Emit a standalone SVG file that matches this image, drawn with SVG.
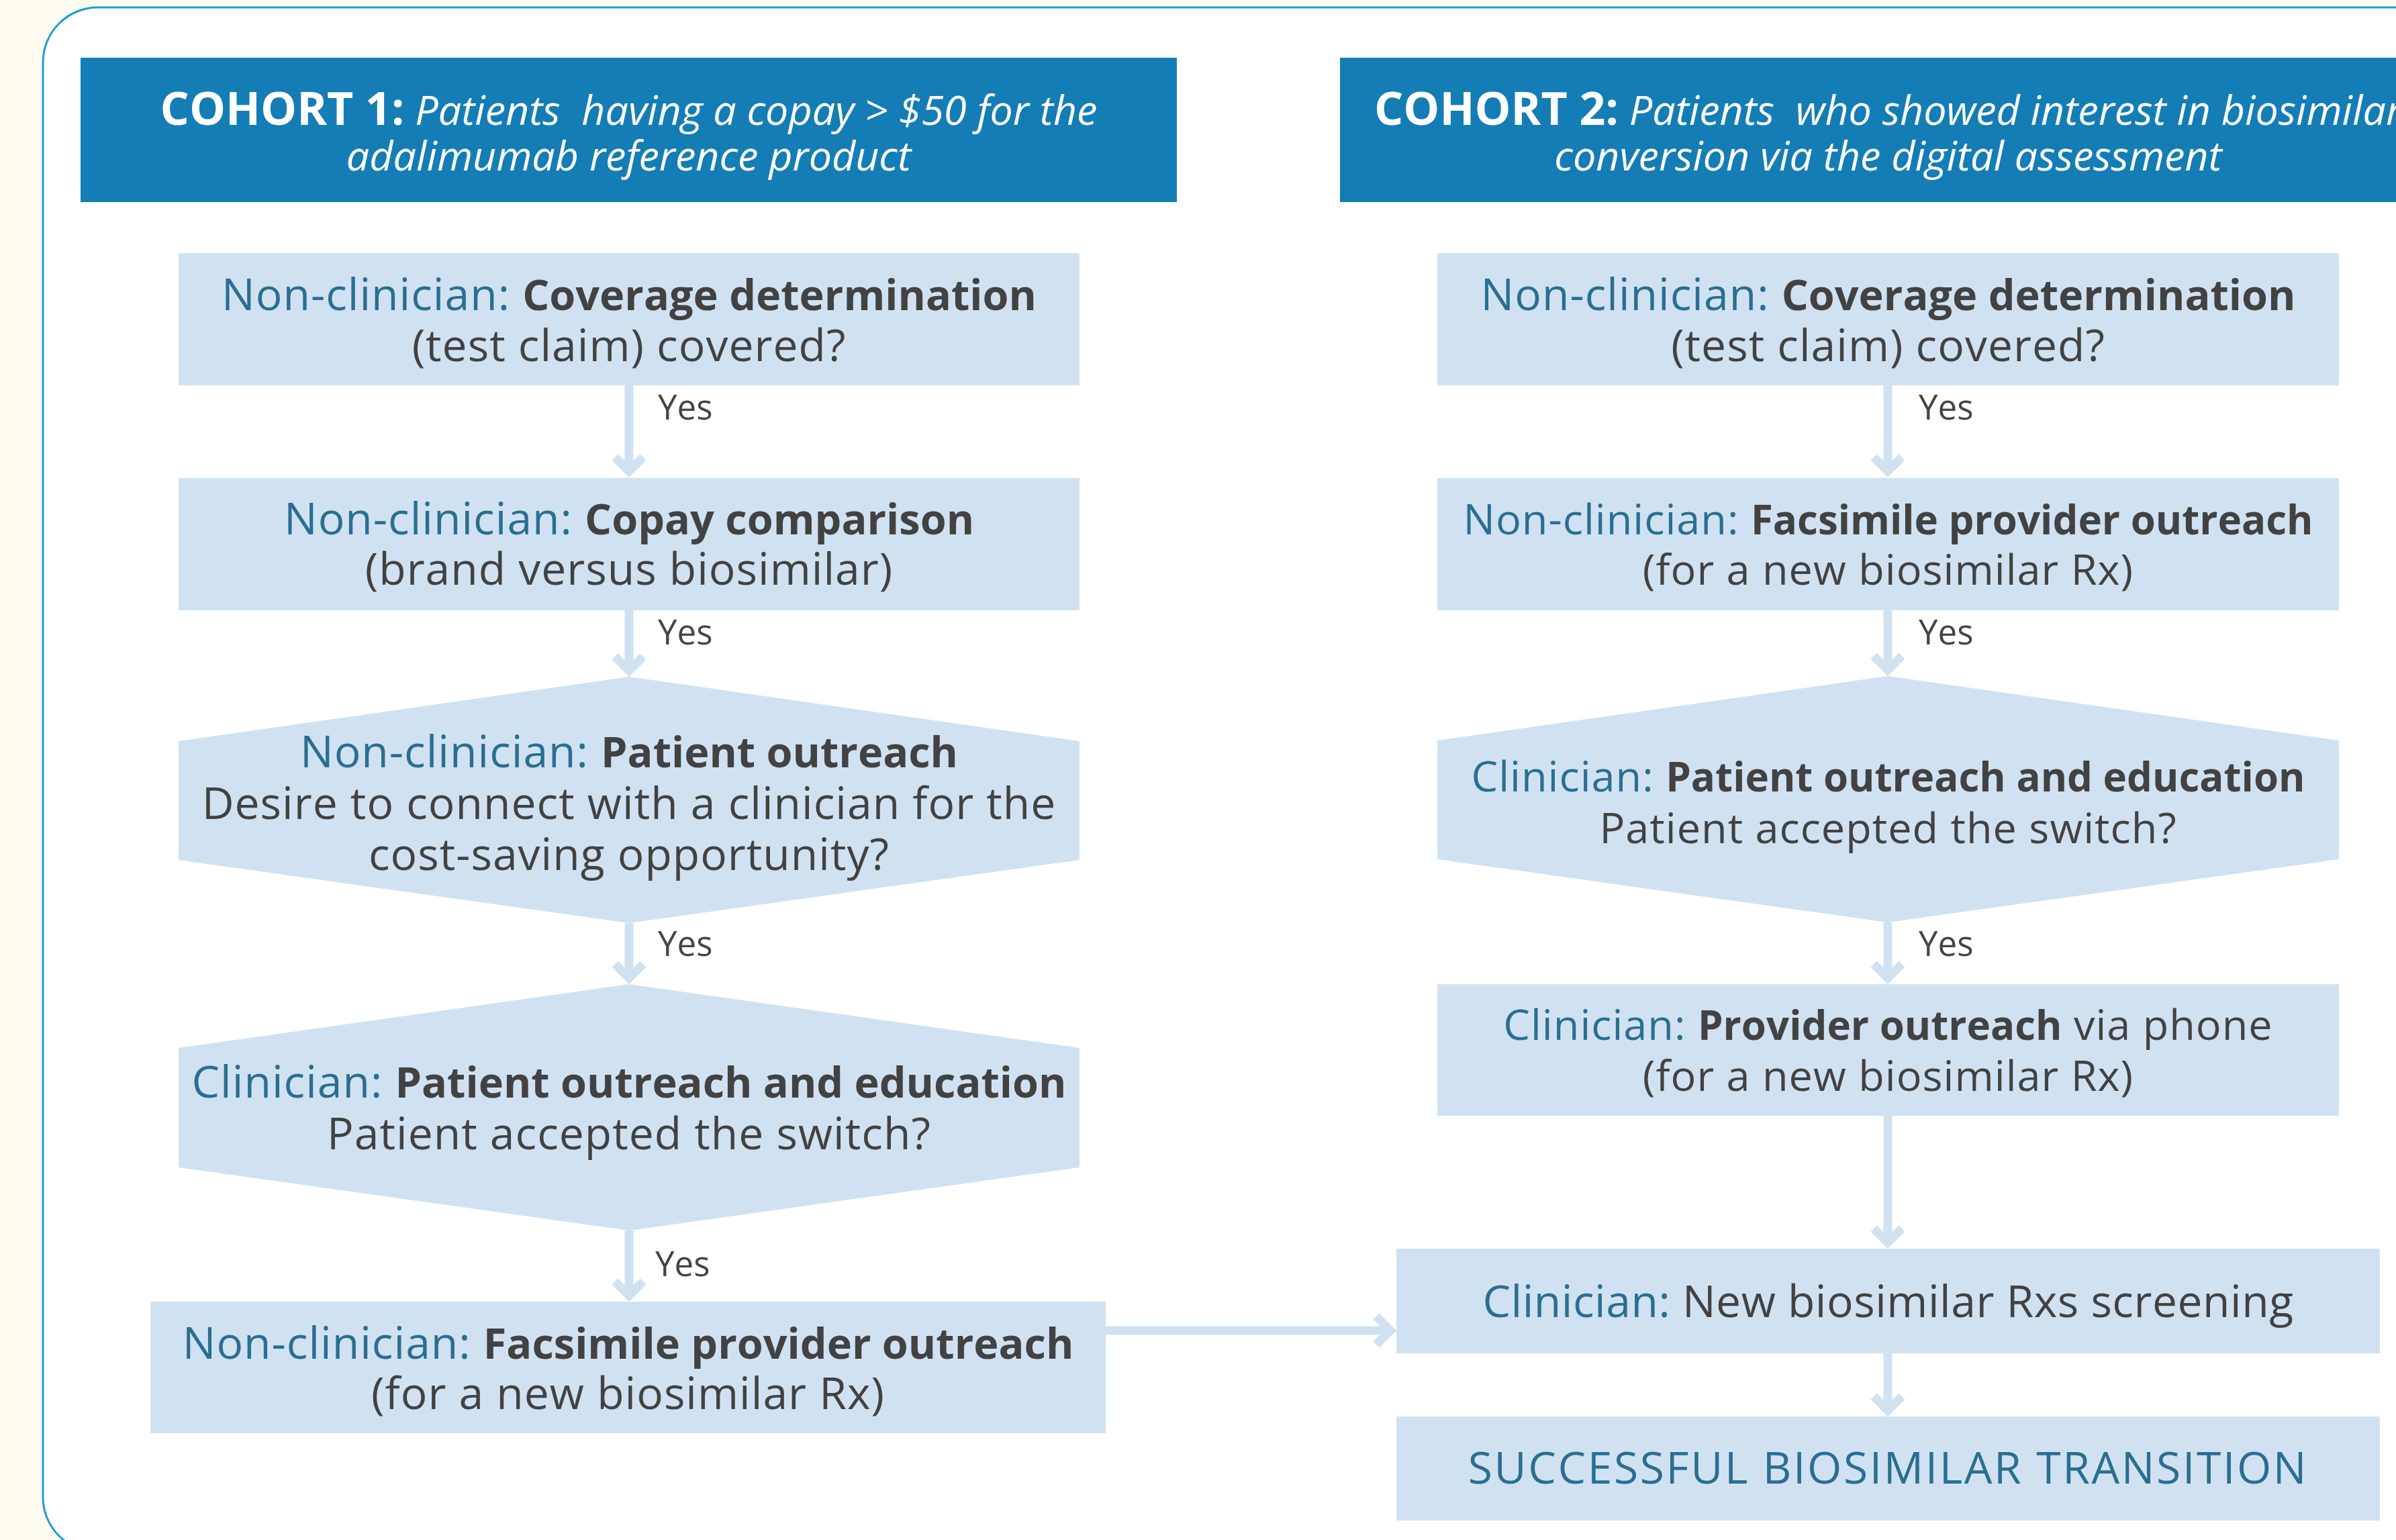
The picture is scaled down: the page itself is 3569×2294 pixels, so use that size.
<svg xmlns="http://www.w3.org/2000/svg" width="3569" height="2294" viewBox="0 0 3569 2294">
<style>
  .frame { fill: #ffffff; stroke: #1e9bd7; stroke-width: 3; }
  .hdr { fill: #147db6; }
  .node { fill: #d0e2f2; }
  .t { font-family: "Open Sans", "Liberation Sans", sans-serif; font-size: 66px; letter-spacing: 1px; fill: #424242; text-anchor: middle; }
  .sm { font-size: 63px; }
  .ht { font-family: "Open Sans", "Liberation Sans", sans-serif; font-size: 61px; fill: #ffffff; text-anchor: middle; font-style: italic; }
  .hb { font-weight: 700; font-style: normal; font-size: 68px; }
  .lab { fill: #2b6e91; }
  .b { font-weight: 700; font-size: 63px; letter-spacing: 0px; }
  .sm .b { font-size: 60px; }
  .yes { font-family: "Open Sans", "Liberation Sans", sans-serif; font-size: 51px; fill: #454545; }
  .succ { font-family: "Open Sans", "Liberation Sans", sans-serif; font-size: 66px; letter-spacing: 2.6px; fill: #2b6e91; text-anchor: middle; }
  .conn { stroke: #d0e2f2; stroke-width: 13; fill: none; }
</style>
<defs>
  <marker id="arrow" markerUnits="userSpaceOnUse" viewBox="-40 -40 80 80" markerWidth="80" markerHeight="80" refX="0" refY="0" orient="auto">
    <path d="M -21 -21 L 0 0 L -21 21" fill="none" stroke="#d0e2f2" stroke-width="13" stroke-linejoin="miter" stroke-miterlimit="4"/>
  </marker>
</defs>
<rect x="0" y="0" width="3569" height="2294" fill="#fefcf0"/>
<rect class="frame" x="64" y="11" width="3700" height="2301" rx="82" ry="82"/>

<g id="connectors">
  <line class="conn" x1="937" y1="574" x2="937" y2="702" marker-end="url(#arrow)"/>
  <line class="conn" x1="937" y1="909" x2="937" y2="999" marker-end="url(#arrow)"/>
  <line class="conn" x1="937" y1="1375" x2="937" y2="1457" marker-end="url(#arrow)"/>
  <line class="conn" x1="937" y1="1833" x2="937" y2="1930" marker-end="url(#arrow)"/>
  <line class="conn" x1="1647" y1="1982" x2="2071" y2="1982" marker-end="url(#arrow)"/>
  <line class="conn" x1="2812" y1="574" x2="2812" y2="702" marker-end="url(#arrow)"/>
  <line class="conn" x1="2812" y1="909" x2="2812" y2="998" marker-end="url(#arrow)"/>
  <line class="conn" x1="2812" y1="1374" x2="2812" y2="1457" marker-end="url(#arrow)"/>
  <line class="conn" x1="2812" y1="1662" x2="2812" y2="1851" marker-end="url(#arrow)"/>
  <line class="conn" x1="2812" y1="2016" x2="2812" y2="2101" marker-end="url(#arrow)"/>
  <text class="yes" x="980" y="625">Yes</text>
  <text class="yes" x="980" y="960">Yes</text>
  <text class="yes" x="980" y="1424">Yes</text>
  <text class="yes" x="976" y="1901">Yes</text>
  <text class="yes" x="2858" y="625">Yes</text>
  <text class="yes" x="2858" y="960">Yes</text>
  <text class="yes" x="2858" y="1424">Yes</text>
</g>

<g id="cohort1-header">
  <rect class="hdr" x="120" y="86" width="1633" height="215"/>
  <text class="ht" x="936.5" y="186" style="white-space:pre"><tspan class="hb">COHORT 1:</tspan> Patients  having a copay &gt; $50 for the</text>
  <text class="ht" x="936.5" y="254">adalimumab reference product</text>
</g>

<g id="cohort2-header">
  <rect class="hdr" x="1996" y="86" width="1633" height="215"/>
  <text class="ht" x="2812.5" y="186" style="white-space:pre"><tspan class="hb">COHORT 2:</tspan> Patients  who showed interest in biosimilar</text>
  <text class="ht" x="2812.5" y="254">conversion via the digital assessment</text>
</g>

<g id="c1-coverage">
  <rect class="node" x="266" y="377" width="1342" height="197"/>
  <text class="t" x="937" y="462"><tspan class="lab">Non-clinician:</tspan> <tspan class="b">Coverage determination</tspan></text>
  <text class="t" x="937" y="538">(test claim) covered?</text>
</g>

<g id="c1-copay">
  <rect class="node" x="266" y="712" width="1342" height="197"/>
  <text class="t" x="937" y="796"><tspan class="lab">Non-clinician:</tspan> <tspan class="b">Copay comparison</tspan></text>
  <text class="t" x="937" y="871">(brand versus biosimilar)</text>
</g>

<g id="c1-patient-outreach">
  <polygon class="node" points="937,1008 1608,1104 1608,1281 937,1375 266,1281 266,1104"/>
  <text class="t" x="937" y="1143"><tspan class="lab">Non-clinician:</tspan> <tspan class="b">Patient outreach</tspan></text>
  <text class="t" x="937" y="1220">Desire to connect with a clinician for the</text>
  <text class="t" x="937" y="1296">cost-saving opportunity?</text>
</g>

<g id="c1-education">
  <polygon class="node" points="937,1466 1608,1561 1608,1739 937,1833 266,1739 266,1561"/>
  <text class="t" x="937" y="1635"><tspan class="lab">Clinician:</tspan> <tspan class="b">Patient outreach and education</tspan></text>
  <text class="t" x="937" y="1712">Patient accepted the switch?</text>
</g>

<g id="c1-facsimile">
  <rect class="node" x="224" y="1939" width="1423" height="196"/>
  <text class="t" x="935.5" y="2024"><tspan class="lab">Non-clinician:</tspan> <tspan class="b">Facsimile provider outreach</tspan></text>
  <text class="t" x="935.5" y="2099">(for a new biosimilar Rx)</text>
</g>

<g id="c2-coverage">
  <rect class="node" x="2141" y="377" width="1343" height="197"/>
  <text class="t" x="2812.5" y="462"><tspan class="lab">Non-clinician:</tspan> <tspan class="b">Coverage determination</tspan></text>
  <text class="t" x="2812.5" y="538">(test claim) covered?</text>
</g>

<g id="c2-facsimile">
  <rect class="node" x="2141" y="712" width="1343" height="197"/>
  <text class="t sm" x="2812.5" y="796"><tspan class="lab">Non-clinician:</tspan> <tspan class="b">Facsimile provider outreach</tspan></text>
  <text class="t sm" x="2812.5" y="871">(for a new biosimilar Rx)</text>
</g>

<g id="c2-education">
  <polygon class="node" points="2812,1007 3484,1103 3484,1280 2812,1374 2141,1280 2141,1103"/>
  <text class="t sm" x="2812.5" y="1179"><tspan class="lab">Clinician:</tspan> <tspan class="b">Patient outreach and education</tspan></text>
  <text class="t sm" x="2812.5" y="1256">Patient accepted the switch?</text>
</g>

<g id="c2-phone">
  <rect class="node" x="2141" y="1466" width="1343" height="196"/>
  <text class="t sm" x="2812.5" y="1549"><tspan class="lab">Clinician:</tspan> <tspan class="b">Provider outreach</tspan> via phone</text>
  <text class="t sm" x="2812.5" y="1625">(for a new biosimilar Rx)</text>
</g>

<g id="screening">
  <rect class="node" x="2080" y="1860" width="1465" height="156"/>
  <text class="t" x="2812.5" y="1962" style="letter-spacing:0.5px"><tspan class="lab">Clinician:</tspan> New biosimilar Rxs screening</text>
</g>

<g id="success">
  <rect class="node" x="2080" y="2110" width="1465" height="155"/>
  <text class="succ" x="2812.5" y="2210">SUCCESSFUL BIOSIMILAR TRANSITION</text>
</g>
</svg>
